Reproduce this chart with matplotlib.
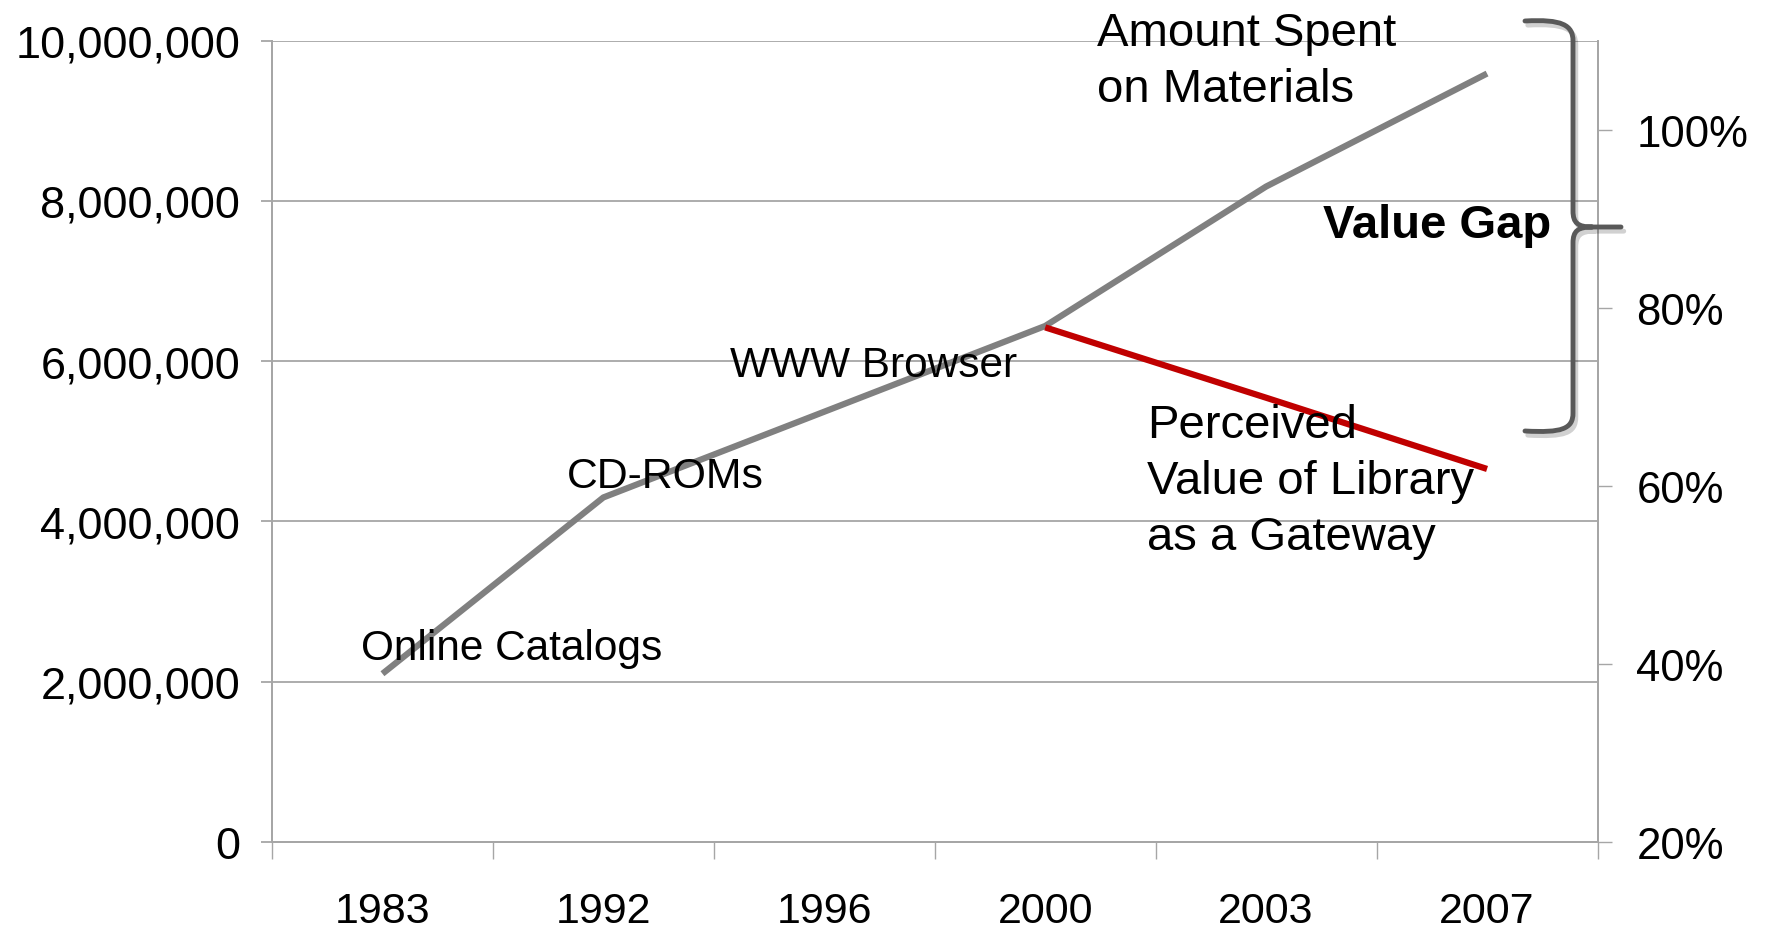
import numpy as np
import matplotlib
matplotlib.use("Agg")
import matplotlib.pyplot as plt
import matplotlib.patheffects as pe
from matplotlib.path import Path
from matplotlib.patches import PathPatch
from matplotlib.ticker import FuncFormatter

plt.rcParams['font.family'] = ['Liberation Sans', 'DejaVu Sans']

# data
years = ["1983", "1992", "1996", "2000", "2003", "2007"]
spent = [2100000, 4300000, 5370000, 6440000, 8180000, 9590000]
perceived_years = ["2000", "2003", "2007"]
perceived = [77.8, 69.9, 61.9]
left_ticks = [0, 2000000, 4000000, 6000000, 8000000, 10000000]
right_ticks = [20, 40, 60, 80, 100]

W, H = 1769, 929
fig = plt.figure(figsize=(W / 100, H / 100), dpi=100)
ax = fig.add_axes([272 / W, 1 - 843 / H, (1597.5 - 272) / W, (843 - 41.7) / H])
ax2 = ax.twinx()

grid_c = "#a6a6a6"
x = np.arange(len(years))
ax.plot(x, spent, color="#808080", lw=4.5, solid_capstyle="butt", zorder=3)
px = [years.index(y) for y in perceived_years]
ax2.plot(px, perceived, color="#c00000", lw=4.5, solid_capstyle="butt", zorder=3)

ax.set_xlim(-0.5, len(years) - 0.5)
ax.set_ylim(0, 10000000)
ax2.set_ylim(20, 110)

ax.set_yticks(left_ticks)
ax.yaxis.set_major_formatter(FuncFormatter(lambda v, p: "{:,.0f}".format(v)))
ax.yaxis.grid(True, color=grid_c, lw=1.3)
ax.set_axisbelow(True)
ax.set_xticks(np.arange(-0.5, len(years), 1))
ax.set_xticklabels([])
ax.set_xticks(x, minor=True)
ax.set_xticklabels(years, minor=True)
ax.tick_params(axis="x", which="major", length=12, width=1, color=grid_c)
ax.tick_params(axis="x", which="minor", length=0, pad=35, labelsize=31)
ax.tick_params(axis="y", length=8, width=1.3, color=grid_c, pad=15, labelsize=32.5)

ax2.set_yticks(right_ticks)
ax2.yaxis.set_major_formatter(FuncFormatter(lambda v, p: "%d%%" % v))
ax2.tick_params(axis="y", length=10, width=1, color=grid_c, pad=18, labelsize=31.5)

for a in (ax, ax2):
    a.spines["top"].set_visible(False)
    for s in ("left", "right", "bottom"):
        a.spines[s].set_color(grid_c)
        a.spines[s].set_linewidth(1.3)

def fpos(px_, py_):
    return px_ / W, 1 - py_ / H

# milestone labels (baseline of the last line)
fig.text(*fpos(361, 660), "Online Catalogs", fontsize=30.5, va="baseline")
fig.text(*fpos(567, 488), "CD-ROMs", fontsize=30.8, va="baseline")
fig.text(*fpos(730, 377), "WWW Browser", fontsize=30.5, va="baseline")
fig.text(*fpos(1097, 102), "Amount Spent\non Materials", fontsize=34, va="baseline",
         linespacing=1.36)
fig.text(*fpos(1147, 550), "Perceived\nValue of Library\nas a Gateway", fontsize=34,
         va="baseline", linespacing=1.36)
fig.text(*fpos(1551, 238), "Value Gap", fontsize=34, fontweight="bold", ha="right",
         va="baseline")

# curly brace
pts = [(1525, 22), (1562, 20), (1573, 26), (1573, 42),
       (1573, 212),
       (1573, 224), (1578, 228), (1592, 228),
       (1621, 228),
       (1592, 228),
       (1578, 228), (1573, 232), (1573, 244),
       (1573, 414),
       (1573, 430), (1562, 434), (1525, 432)]
codes = [Path.MOVETO, Path.CURVE4, Path.CURVE4, Path.CURVE4,
         Path.LINETO,
         Path.CURVE4, Path.CURVE4, Path.CURVE4,
         Path.LINETO,
         Path.MOVETO,
         Path.CURVE4, Path.CURVE4, Path.CURVE4,
         Path.LINETO,
         Path.CURVE4, Path.CURVE4, Path.CURVE4]
brace = Path([fpos(*p) for p in pts], codes)
patch = PathPatch(brace, transform=fig.transFigure, fill=False, edgecolor="#595959",
                  lw=3.5, capstyle="round", joinstyle="round")
patch.set_path_effects([pe.SimpleLineShadow(offset=(2, -3), shadow_color="#000000", alpha=0.18),
                        pe.Normal()])
fig.patches.append(patch)

fig.savefig("out.png", dpi=100)
